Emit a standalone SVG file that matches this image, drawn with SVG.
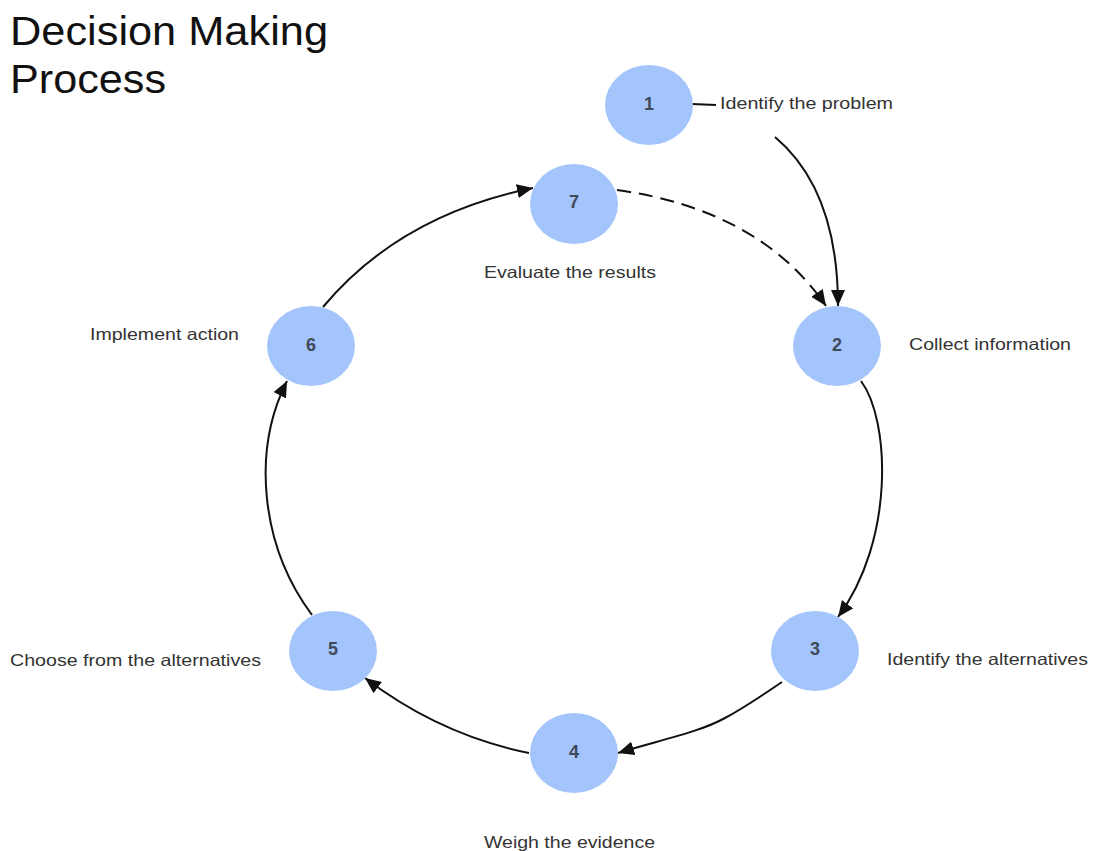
<svg xmlns="http://www.w3.org/2000/svg" width="1094" height="851" viewBox="0 0 1094 851">
<style>
.node{fill:#a4c5fc;}
.num{font-family:"Liberation Sans",Arial,sans-serif;font-size:18px;font-weight:bold;fill:#3f4a5a;text-anchor:middle;}
.lbl{font-family:"Liberation Sans",Arial,sans-serif;font-size:16.5px;fill:#333;}
.title{font-family:"Liberation Sans",Arial,sans-serif;font-size:40px;fill:#111;}
.edge{fill:none;stroke:#111;stroke-width:2;marker-end:url(#arr);}
.dash{stroke-dasharray:14,8;}
</style>
<defs>
<marker id="arr" markerUnits="userSpaceOnUse" markerWidth="17" markerHeight="14" refX="16" refY="7" orient="auto">
<path d="M0,0 L16,7 L0,14 z" fill="#111"/>
</marker>
</defs>
<g id="title">
<text class="title" x="10" y="45" textLength="318" lengthAdjust="spacingAndGlyphs">Decision Making</text>
<text class="title" x="10" y="93" textLength="156" lengthAdjust="spacingAndGlyphs">Process</text>
</g>
<g id="connectors">
<path class="edge" d="M775,137 Q838,190 838,306"/>
<path class="edge dash" d="M617,190 Q760,210 826,306"/>
<path class="edge" d="M861,381 C890,420 895,540 838,617"/>
<path class="edge" d="M782,682 C760,697 740,710 725,718 C700,732 660,740 618,753"/>
<path class="edge" d="M529,753 Q440,735 365,678"/>
<path class="edge" d="M312,615 C260,545 252,450 287,381"/>
<path class="edge" d="M323,307 Q400,215 533,188"/>
<path d="M692,104 L716,105" fill="none" stroke="#111" stroke-width="2"/>
</g>
<g id="node1">
<ellipse class="node" cx="649" cy="105" rx="44" ry="40"/>
<text class="num" x="649" y="110">1</text>
<text class="lbl" x="720" y="109" textLength="173" lengthAdjust="spacingAndGlyphs">Identify the problem</text>
</g>
<g id="node2">
<ellipse class="node" cx="837" cy="346" rx="44" ry="40"/>
<text class="num" x="837" y="351">2</text>
<text class="lbl" x="909" y="350" textLength="162" lengthAdjust="spacingAndGlyphs">Collect information</text>
</g>
<g id="node3">
<ellipse class="node" cx="815" cy="651" rx="44" ry="40"/>
<text class="num" x="815" y="655">3</text>
<text class="lbl" x="887" y="665" textLength="201" lengthAdjust="spacingAndGlyphs">Identify the alternatives</text>
</g>
<g id="node4">
<ellipse class="node" cx="574" cy="753" rx="44" ry="40"/>
<text class="num" x="574" y="758">4</text>
<text class="lbl" x="484" y="848" textLength="171" lengthAdjust="spacingAndGlyphs">Weigh the evidence</text>
</g>
<g id="node5">
<ellipse class="node" cx="333" cy="651" rx="44" ry="40"/>
<text class="num" x="333" y="655">5</text>
<text class="lbl" x="10" y="666" textLength="251" lengthAdjust="spacingAndGlyphs">Choose from the alternatives</text>
</g>
<g id="node6">
<ellipse class="node" cx="311" cy="346" rx="44" ry="40"/>
<text class="num" x="311" y="351">6</text>
<text class="lbl" x="90" y="340" textLength="149" lengthAdjust="spacingAndGlyphs">Implement action</text>
</g>
<g id="node7">
<ellipse class="node" cx="574" cy="204" rx="44" ry="40"/>
<text class="num" x="574" y="208">7</text>
<text class="lbl" x="484" y="278" textLength="172" lengthAdjust="spacingAndGlyphs">Evaluate the results</text>
</g>
</svg>
